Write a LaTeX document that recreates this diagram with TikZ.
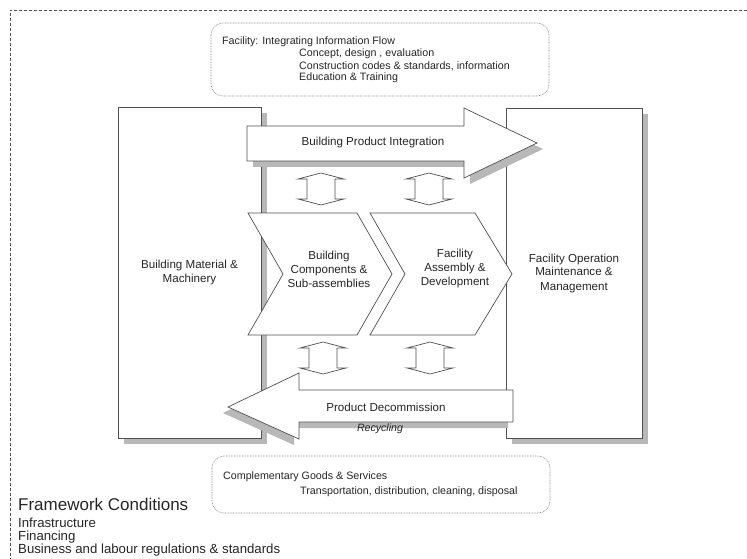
\documentclass[tikz,border=0pt]{standalone}
\usepackage{fontspec}
\setmainfont{Liberation Sans}
\definecolor{linec}{HTML}{505050}
\definecolor{shadowc}{HTML}{B8B8B8}
\definecolor{txtc}{HTML}{262626}
\definecolor{dotc}{HTML}{8C8C8C}
\begin{document}
\begin{tikzpicture}[x=1pt,y=-1pt,
  shape line/.style={draw=linec, line width=0.7pt, fill=white, line join=miter},
  shadowfill/.style={fill=shadowc, draw=none},
  roundbox/.style={draw=dotc, line width=0.6pt, dash pattern=on 0.8pt off 0.8pt, rounded corners=12pt},
  midtxt/.style={font=\fontsize{11.6}{14}\selectfont, text=txtc, align=center, inner sep=0pt},
  smalltxt/.style={font=\fontsize{10.7}{12}\selectfont, text=txtc, anchor=west, inner sep=0pt},
  listtxt/.style={font=\fontsize{13.2}{14}\selectfont, text=txtc, anchor=west, inner sep=0pt},
  bigbox/.style={shape line, rectangle, inner sep=0pt, midtxt},
  dblarrow/.pic={
    \draw[shape line] (0,0) -- (23,6) -- (14,6) -- (14,26) -- (23,26) -- (0,32)
      -- (-23,26) -- (-14,26) -- (-14,6) -- (-23,6) -- cycle;
  }]
\useasboundingbox (0,0) rectangle (747,559);
\fill[white] (0,0) rectangle (747,559);

% outer dashed frame (only top and left visible)
\draw[linec, line width=0.6pt, dash pattern=on 3pt off 2pt] (747,10) -- (10,10) -- (10,559);

% top rounded box
\draw[roundbox] (211,23) rectangle (549,96);
\node[smalltxt] (info1) at (222,42) {Facility: Integrating Information Flow};
\node[smalltxt] (info2) at (299,54) {Concept, design , evaluation};
\node[smalltxt] (info3) at (299,66) {Construction codes \& standards, information};
\node[smalltxt] (info4) at (299,78) {Education \& Training};

% side boxes with shadows
\fill[shadowfill] (124,113) rectangle (267,444);
\node[bigbox, minimum width=143pt, minimum height=331pt] (material) at (189.5,272.5)
  {Building Material \&\\Machinery};
\fill[shadowfill] (512,114) rectangle (648,444);
\node[bigbox, minimum width=136pt, minimum height=330pt] (operation) at (574,273)
  {Facility Operation\\Maintenance \&\\Management};

% top arrow
\fill[shadowfill, shift={(6,6)}] (247,126) -- (464,126) -- (464,108) -- (537,143) -- (464,178) -- (464,161) -- (247,161) -- cycle;
\draw[shape line] (247,126) -- (464,126) -- (464,108) -- (537,143) -- (464,178) -- (464,161) -- (247,161) -- cycle;
\node[midtxt] (integration) at (373,143) {Building Product Integration};

% double arrows upper
\pic at (321,173) {dblarrow};
\pic at (429,173) {dblarrow};

% chevrons
\draw[shape line] (248,213) -- (357,213) -- (392,274) -- (357,335) -- (248,335) -- (283,274) -- cycle;
\node[midtxt] (components) at (329,269) {Building\\Components \&\\Sub-assemblies};
\draw[shape line] (370,213) -- (475,213) -- (512,274) -- (475,335) -- (370,335) -- (405,274) -- cycle;
\node[midtxt] (assembly) at (455,268) {Facility\\Assembly \&\\Development};

% double arrows lower
\pic at (323,342) {dblarrow};
\pic at (430,342) {dblarrow};

% bottom arrow
\fill[shadowfill, shift={(-5,6)}] (513,390) -- (299,390) -- (299,373) -- (228,407) -- (299,439) -- (299,422) -- (513,422) -- cycle;
\draw[shape line] (513,390) -- (299,390) -- (299,373) -- (228,407) -- (299,439) -- (299,422) -- (513,422) -- cycle;
\node[midtxt] (decommission) at (386,407) {Product Decommission};
\node[midtxt, font=\fontsize{10.6}{12}\selectfont\itshape] (recycling) at (380,429) {Recycling};

% bottom rounded box
\draw[roundbox] (212,456) rectangle (550,513);
\node[smalltxt] (goods1) at (223,477) {Complementary Goods \& Services};
\node[smalltxt] (goods2) at (300,492) {Transportation, distribution, cleaning, disposal};

% framework conditions
\node[listtxt, font=\fontsize{17}{20}\selectfont] (framework) at (18,504) {Framework Conditions};
\node[listtxt] (infra) at (18,523) {Infrastructure};
\node[listtxt] (financing) at (18,537) {Financing};
\node[listtxt] (business) at (18,550) {Business and labour regulations \& standards};
\end{tikzpicture}
\end{document}
